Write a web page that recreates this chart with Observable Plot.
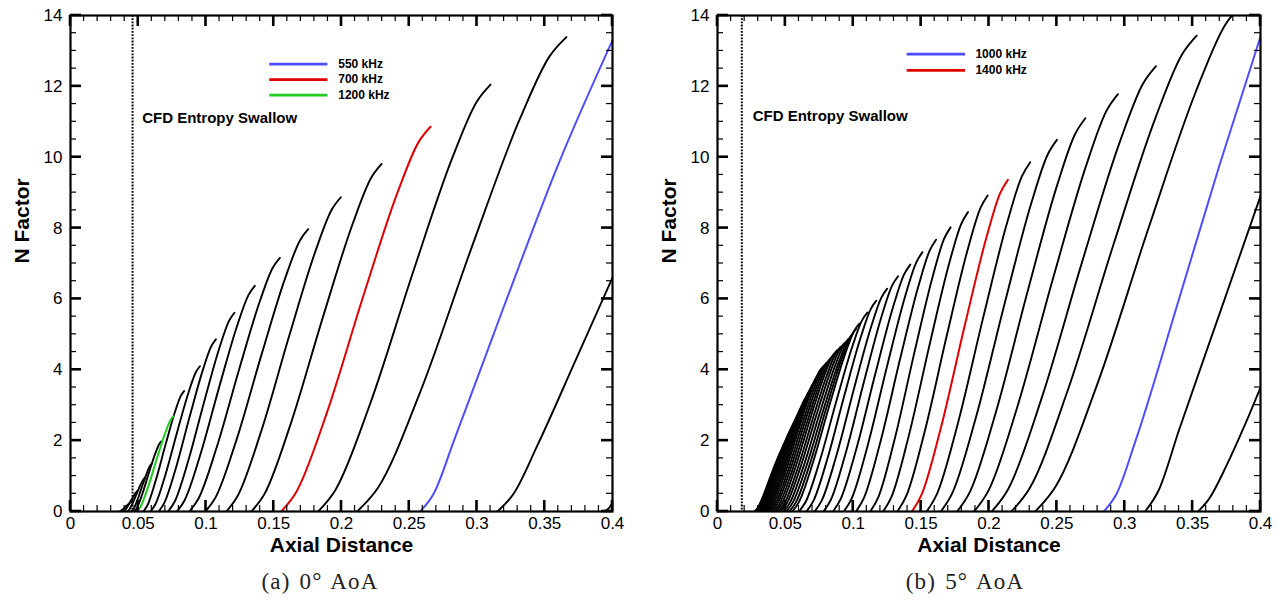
<!DOCTYPE html>
<html><head><meta charset="utf-8">
<script src="https://cdn.jsdelivr.net/npm/d3@7"></script>
<script src="https://cdn.jsdelivr.net/npm/@observablehq/plot@0.6"></script>
<style>
body{margin:0;background:#fff;}
#wrap{position:relative;width:1288px;height:606px;font-family:"Liberation Sans",Arial,sans-serif;overflow:hidden;}
.panel{position:absolute;top:0;}
.cap{position:absolute;top:569px;font-family:"Liberation Serif","DejaVu Serif",serif;font-size:23px;letter-spacing:1.2px;word-spacing:2px;transform:translateX(-50%);white-space:nowrap;color:#222;}
</style></head><body>
<div id="wrap">
  <div id="pa" class="panel" style="left:0"></div>
  <div id="pb" class="panel" style="left:644px"></div>
  <div class="cap" style="left:320px">(a) 0° AoA</div>
  <div class="cap" style="left:965px">(b) 5° AoA</div>
</div>
<script>
// ---------- axis ticks ----------
const xTicks = [0, 0.05, 0.1, 0.15, 0.2, 0.25, 0.3, 0.35, 0.4];
const xTickLabels = ["0", "0.05", "0.1", "0.15", "0.2", "0.25", "0.3", "0.35", "0.4"];
const yTicks = [0, 2, 4, 6, 8, 10, 12, 14];
const yTickLabels = ["0", "2", "4", "6", "8", "10", "12", "14"];

// ---------- (a) 0 deg AoA : black N-factor curves, [axial distance, N] ----------
const aoa0Black = [
  [[.036,0],[.037,.015],[.039,.075],[.0415,.168],[.0438,.249],[.0452,.288],[.046,.3]],
  [[.039,0],[.0401,.03],[.0423,.15],[.04505,.336],[.04758,.498],[.04912,.576],[.050,.6]],
  [[.042,0],[.0433,.048],[.0459,.238],[.04915,.532],[.05214,.789],[.05396,.912],[.055,.95]],
  [[.045,0],[.0465,.068],[.0495,.338],[.05325,.756],[.0567,1.121],[.0588,1.296],[.060,1.35]],
  [[.047,0],[.049,.099],[.053,.495],[.058,1.109],[.0626,1.643],[.0654,1.901],[.067,1.98]],
  [[.0537,0],[.0567,.17],[.0627,.85],[.07026,1.904],[.07718,2.822],[.08139,3.264],[.0838,3.4]],
  [[.059,0],[.06265,.205],[.06995,1.025],[.07908,2.296],[.08747,3.403],[.09258,3.936],[.0955,4.1]],
  [[.065,0],[.06923,.243],[.07769,1.215],[.08827,2.722],[.098,4.034],[.10392,4.666],[.1073,4.86]],
  [[.072,0],[.0769,.281],[.0867,1.403],[.09895,3.142],[.11022,4.656],[.11708,5.386],[.121,5.61]],
  [[.0785,0],[.08425,.319],[.09575,1.593],[.11013,3.567],[.12335,5.287],[.1314,6.115],[.136,6.37]],
  [[.0877,0],[.09438,.358],[.10774,1.79],[.12444,4.01],[.1398,5.943],[.14916,6.874],[.1545,7.16]],
  [[.0995,0],[.10709,.399],[.12227,1.993],[.14125,4.463],[.1587,6.615],[.16933,7.651],[.1754,7.97]],
  [[.115,0],[.12345,.444],[.14035,2.218],[.16148,4.967],[.18091,7.362],[.19274,8.515],[.1995,8.87]],
  [[.1335,0],[.14311,.491],[.16233,2.453],[.18636,5.494],[.20846,8.142],[.22191,9.418],[.2296,9.81]],
  [[.1827,0],[.19543,.603],[.22089,3.013],[.25272,6.748],[.28199,10.002],[.29982,11.568],[.310,12.05]],
  [[.2115,0],[.22695,.67],[.25785,3.348],[.29648,7.498],[.33201,11.114],[.35364,12.854],[.366,13.39]],
  [[.315,0],[.327,.5],[.345,1.9],[.372,4.2],[.4,6.6]],
  [[.393,0],[.397,.08],[.4,.25]]
];
const aoa0_550kHz  = [[.258,0],[.268,.5],[.283,2],[.32,5.8],[.36,9.8],[.4,13.3]];
const aoa0_700kHz  = [[.1555,0],[.16652,.543],[.18856,2.715],[.21611,6.082],[.24146,9.014],[.25688,10.426],[.2657,10.86]];
const aoa0_1200kHz = [[.049,0],[.0517,.135],[.0571,.673],[.06385,1.506],[.07006,2.233],[.07384,2.582],[.076,2.69]];

// ---------- (b) 5 deg AoA ----------
const aoa5Black = [
  [[.0272,0],[.02938,.09],[.03374,.45],[.03919,1.008],[.0442,1.494],[.04726,1.728],[.049,1.8]],
  [[.0279,0],[.03036,.105],[.03528,.525],[.04143,1.176],[.04709,1.743],[.05053,2.016],[.0525,2.1]],
  [[.0286,0],[.03134,.12],[.03682,.6],[.04367,1.344],[.04997,1.992],[.05381,2.304],[.056,2.4]],
  [[.0294,0],[.03231,.13],[.03813,.65],[.04541,1.456],[.0521,2.158],[.05617,2.496],[.0585,2.6]],
  [[.0303,0],[.03337,.14],[.03951,.7],[.04719,1.568],[.05425,2.324],[.05854,2.688],[.061,2.8]],
  [[.0313,0],[.03457,.153],[.04111,.763],[.04929,1.708],[.05681,2.532],[.06138,2.928],[.064,3.05]],
  [[.0323,0],[.03577,.165],[.04271,.825],[.05139,1.848],[.05937,2.739],[.06422,3.168],[.067,3.3]],
  [[.0334,0],[.03704,.175],[.04432,.875],[.05342,1.96],[.06179,2.905],[.06689,3.36],[.0698,3.5]],
  [[.0345,0],[.0383,.185],[.0459,.925],[.0554,2.072],[.06414,3.071],[.06946,3.552],[.0725,3.7]],
  [[.0357,0],[.03966,.195],[.04758,.975],[.05748,2.184],[.06659,3.237],[.07213,3.744],[.0753,3.9]],
  [[.037,0],[.0411,.205],[.0493,1.025],[.05955,2.296],[.06898,3.403],[.07472,3.936],[.078,4.1]],
  [[.0384,0],[.0426,.21],[.051,1.05],[.0615,2.352],[.07116,3.486],[.07704,4.032],[.0804,4.2]],
  [[.0398,0],[.0441,.215],[.0527,1.075],[.06345,2.408],[.07334,3.569],[.07936,4.128],[.0828,4.3]],
  [[.0414,0],[.0458,.221],[.0546,1.105],[.0656,2.475],[.07572,3.669],[.08188,4.243],[.0854,4.42]],
  [[.043,0],[.0475,.228],[.0565,1.138],[.06775,2.548],[.0781,3.777],[.0844,4.368],[.088,4.55]],
  [[.0448,0],[.0494,.233],[.0586,1.163],[.0701,2.604],[.08068,3.86],[.0871,4.464],[.0908,4.65]],
  [[.0465,0],[.0512,.238],[.0606,1.188],[.07235,2.66],[.08316,3.943],[.08974,4.56],[.0935,4.75]],
  [[.0485,0],[.0533,.244],[.0629,1.218],[.0749,2.727],[.08594,4.042],[.09266,4.675],[.0965,4.87]],
  [[.0505,0],[.0554,.25],[.0652,1.25],[.07745,2.8],[.08872,4.15],[.09558,4.8],[.0995,5.0]],
  [[.0528,0],[.05772,.258],[.06756,1.288],[.07986,2.884],[.09118,4.275],[.09806,4.944],[.102,5.15]],
  [[.055,0],[.05995,.265],[.06985,1.325],[.08223,2.968],[.09361,4.399],[.10054,5.088],[.1045,5.3]],
  [[.060,0],[.06505,.281],[.07515,1.405],[.08778,3.147],[.09939,4.665],[.10646,5.395],[.1105,5.62]],
  [[.0655,0],[.07065,.298],[.08095,1.488],[.09383,3.332],[.10567,4.939],[.11288,5.712],[.117,5.95]],
  [[.0715,0],[.07685,.315],[.08755,1.573],[.10093,3.522],[.11323,5.221],[.12072,6.038],[.125,6.29]],
  [[.078,0],[.0835,.332],[.0945,1.66],[.10825,3.718],[.1209,5.511],[.1286,6.374],[.133,6.64]],
  [[.085,0],[.0907,.349],[.1021,1.743],[.11635,3.903],[.12946,5.785],[.13744,6.691],[.142,6.97]],
  [[.093,0],[.0988,.366],[.1104,1.83],[.1249,4.099],[.13824,6.076],[.14636,7.027],[.151,7.32]],
  [[.102,0],[.1079,.384],[.1197,1.918],[.13445,4.295],[.14802,6.366],[.15628,7.363],[.161,7.67]],
  [[.1125,0],[.11842,.401],[.13026,2.005],[.14506,4.491],[.15868,6.657],[.16696,7.699],[.1717,8.02]],
  [[.122,0],[.12825,.423],[.14075,2.113],[.15638,4.732],[.17075,7.014],[.1795,8.112],[.1845,8.45]],
  [[.1325,0],[.13915,.446],[.15245,2.23],[.16908,4.995],[.18437,7.404],[.19368,8.563],[.199,8.92]],
  [[.154,0],[.16164,.493],[.17692,2.465],[.19602,5.522],[.21359,8.184],[.22429,9.466],[.2304,9.86]],
  [[.1645,0],[.17305,.525],[.19015,2.623],[.21153,5.874],[.23119,8.707],[.24316,10.07],[.250,10.49]],
  [[.1765,0],[.18595,.555],[.20485,2.775],[.22848,6.216],[.25021,9.213],[.26344,10.656],[.271,11.1]],
  [[.189,0],[.1996,.589],[.2208,2.945],[.2473,6.597],[.27168,9.777],[.28652,11.309],[.295,11.78]],
  [[.202,0],[.2141,.629],[.2383,3.143],[.26855,7.039],[.29638,10.433],[.31332,12.067],[.323,12.57]],
  [[.2165,0],[.23015,.672],[.25745,3.358],[.29158,7.521],[.32297,11.147],[.34208,12.893],[.353,13.43]],
  [[.234,0],[.2492,.715],[.2796,3.575],[.3176,8.008],[.35256,11.869],[.37384,13.728],[.386,14.3]],
  [[.315,0],[.325,.6],[.34,2.3],[.37,5.6],[.4,8.9]],
  [[.354,0],[.362,.35],[.375,1.3],[.388,2.4],[.4,3.5]]
];
const aoa5_1000kHz = [[.2845,0],[.294,.5],[.308,2.0],[.34,6],[.37,9.8],[.4,13.4]];
const aoa5_1400kHz = [[.1432,0],[.15027,.468],[.16441,2.34],[.18209,5.242],[.19835,7.769],[.20824,8.986],[.2139,9.36]];

const swallowA = 0.0458, swallowB = 0.0179;   // CFD entropy swallow location

// ---------- drawing ----------
const BLUE = "#4d4dff", RED = "#e00000", GREEN = "#22cc22";
const toRows = (curves) => curves.flatMap((pts, i) => pts.map(([x, N]) => ({x, N, id: i})));
const toRow1 = (pts) => pts.map(([x, N]) => ({x, N}));

function panel({black, colored, legend, legendX, swallow, textX, textY, mLeft, mRight}) {
  const W = 644, H = 560, mTop = 15, mBottom = 49;
  const fw = W - mLeft - mRight, fh = H - mTop - mBottom;
  const px = 0.4 / fw, py = 14 / fh;             // one pixel in data units
  const xMinor = d3.range(1, 40).map(k => k / 100).filter(v => !xTicks.includes(v));
  const yMinor = d3.range(1, 28).map(k => k / 2).filter(v => !yTicks.includes(v));
  // inward tick marks on all four sides, as small filled rectangles
  const tickRects = [];
  const addX = (vals, len, w) => { for (const v of vals) {
    tickRects.push({x1: v - w * px / 2, x2: v + w * px / 2, y1: 0, y2: len * py});
    tickRects.push({x1: v - w * px / 2, x2: v + w * px / 2, y1: 14 - len * py, y2: 14});
  }};
  const addY = (vals, len, w) => { for (const v of vals) {
    tickRects.push({x1: 0, x2: len * px, y1: v - w * py / 2, y2: v + w * py / 2});
    tickRects.push({x1: 0.4 - len * px, x2: 0.4, y1: v - w * py / 2, y2: v + w * py / 2});
  }};
  addX(xTicks, 11, 2.6); addX(xMinor, 6, 1.2); addY(yTicks, 11, 2.6); addY(yMinor, 6, 1.2);
  const marks = [
    Plot.line(toRows(black), {x: "x", y: "N", z: "id", stroke: "black", strokeWidth: 1.9, curve: "monotone-x", clip: true}),
    ...colored.map(c => Plot.line(toRow1(c.pts), {x: "x", y: "N", stroke: c.color, strokeWidth: 2, curve: "monotone-x", clip: true})),
    Plot.ruleX([swallow], {x: d => d, stroke: "black", strokeWidth: 2, strokeDasharray: "1.8,1.4"}),
    Plot.rect(tickRects, {x1: "x1", x2: "x2", y1: "y1", y2: "y2", fill: "black"}),
    Plot.frame({stroke: "black", strokeWidth: 2.2}),
    Plot.axisX(xTicks, {anchor: "bottom", tickSize: 0, tickPadding: 5, tickFormat: (d) => xTickLabels[xTicks.indexOf(d)], fontSize: 17, label: null}),
    Plot.axisY(yTicks, {anchor: "left", tickSize: 0, tickPadding: 8, tickFormat: (d) => yTickLabels[yTicks.indexOf(d)], fontSize: 17, label: null}),
    Plot.text(["Axial Distance"], {frameAnchor: "bottom", dy: 40, fontSize: 21, fontWeight: "bold"}),
    Plot.text(["N Factor"], {frameAnchor: "left", dx: -48, rotate: -90, fontSize: 21, fontWeight: "bold"}),
    Plot.text(["CFD Entropy Swallow"], {x: textX, y: textY, textAnchor: "start", fontSize: 15, fontWeight: "bold"}),
    ...legend.map(l => Plot.ruleY([l.y], {y: d => d, x1: legendX[0], x2: legendX[1], stroke: l.color, strokeWidth: 2.8})),
    Plot.text(legend, {x: legendX[2], y: "y", text: "label", textAnchor: "start", fontSize: 12, fontWeight: "bold"})
  ];
  return Plot.plot({
    width: W, height: H,
    marginLeft: mLeft, marginRight: mRight, marginTop: mTop, marginBottom: mBottom,
    x: {domain: [0, 0.4], axis: null},
    y: {domain: [0, 14], axis: null},
    style: {fontFamily: "'Liberation Sans', Arial, sans-serif", fontSize: "17px", color: "black", background: "white", overflow: "visible"},
    marks
  });
}

document.getElementById("pa").appendChild(panel({
  black: aoa0Black,
  colored: [{pts: aoa0_700kHz, color: RED}, {pts: aoa0_550kHz, color: BLUE}, {pts: aoa0_1200kHz, color: GREEN}],
  legend: [{y: 12.63, label: "550 kHz", color: BLUE}, {y: 12.19, label: "700 kHz", color: RED}, {y: 11.75, label: "1200 kHz", color: GREEN}],
  legendX: [0.147, 0.19, 0.1976],
  swallow: swallowA, textX: 0.0529, textY: 11.1, mLeft: 70, mRight: 32
}));
document.getElementById("pb").appendChild(panel({
  black: aoa5Black,
  colored: [{pts: aoa5_1400kHz, color: RED}, {pts: aoa5_1000kHz, color: BLUE}],
  legend: [{y: 12.91, label: "1000 kHz", color: BLUE}, {y: 12.45, label: "1400 kHz", color: RED}],
  legendX: [0.1397, 0.1827, 0.19],
  swallow: swallowB, textX: 0.0259, textY: 11.15, mLeft: 73, mRight: 28
}));
</script>
</body></html>
